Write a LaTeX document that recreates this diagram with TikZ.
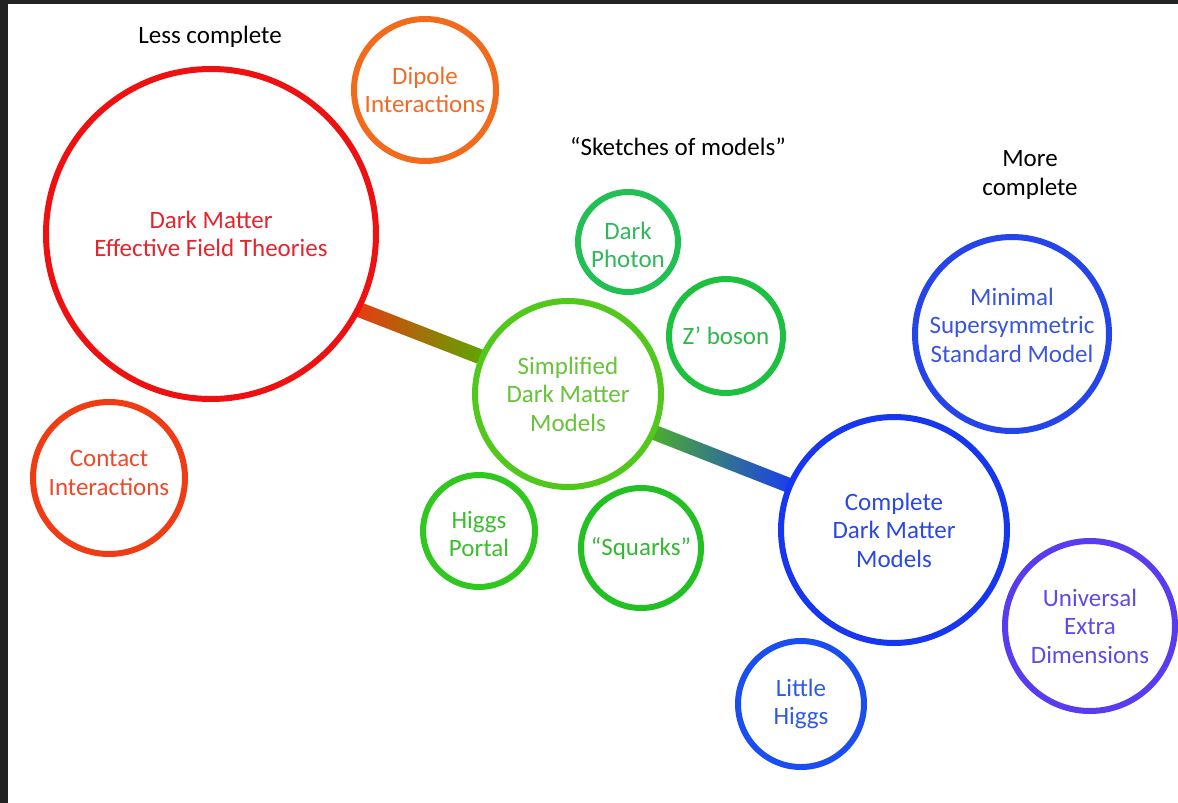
\documentclass[tikz,border=0pt]{standalone}
\usepackage{fontspec}
\setmainfont{Carlito}
\usetikzlibrary{calc}
\pgfdeclarelayer{background}
\pgfsetlayers{background,main}
\definecolor{frame}{HTML}{222222}
\definecolor{cEFT}{HTML}{EE1111}
\definecolor{tEFT}{HTML}{E3262E}
\definecolor{cDip}{HTML}{F26A1B}
\definecolor{tDip}{HTML}{F06A28}
\definecolor{cCon}{HTML}{F03C14}
\definecolor{tCon}{HTML}{EE4A2A}
\definecolor{cSim}{HTML}{52C81C}
\definecolor{tSim}{HTML}{66C33A}
\definecolor{cPho}{HTML}{22BF55}
\definecolor{tPho}{HTML}{30B85A}
\definecolor{cZb}{HTML}{1EC040}
\definecolor{tZb}{HTML}{2EB84A}
\definecolor{cHp}{HTML}{30C81E}
\definecolor{tHp}{HTML}{3CBE30}
\definecolor{cSq}{HTML}{22C022}
\definecolor{tSq}{HTML}{34B834}
\definecolor{cCom}{HTML}{1636F0}
\definecolor{tCom}{HTML}{2A48E6}
\definecolor{cMs}{HTML}{2545EA}
\definecolor{tMs}{HTML}{3A55E0}
\definecolor{cUed}{HTML}{5A3CF0}
\definecolor{tUed}{HTML}{5E4CE6}
\definecolor{cLh}{HTML}{1A4EF0}
\definecolor{tLh}{HTML}{2E5AE6}
\definecolor{barA}{HTML}{E83A10}
\definecolor{barB}{HTML}{5AA800}
\definecolor{barC}{HTML}{4CB028}
\definecolor{barD}{HTML}{1A3CF0}
\begin{document}
\begin{tikzpicture}[x=1pt,y=-1pt,
  txt/.style={align=center, font=\fontsize{25}{28.5}\selectfont},
  bubble/.style={circle, draw, line width=6pt, fill=white, inner sep=0pt, txt},
  plain/.style={txt, text=black}]
\begin{pgfonlayer}{background}
\fill[white] (0,0) rectangle (1178,803);
\end{pgfonlayer}
\fill[frame] (0,0) rectangle (1178,3.5);
\fill[frame] (0,0) rectangle (8,803);
\useasboundingbox (0,0) rectangle (1178,803);

\node[plain] (less) at (210,37) {Less complete};
\node[plain] (sketch) at (678,147) {“Sketches of models”};
\node[plain] (more) at (1030,175) {More\\complete};

\node[bubble, draw=cEFT, text=tEFT, minimum size=330] (eft) at (211,234) {Dark Matter\\Effective Field Theories};
\node[bubble, draw=cDip, text=tDip, minimum size=142] (dip) at (425,90) {Dipole\\Interactions};
\node[bubble, draw=cCon, minimum size=152,
  label={[txt, text=tCon, yshift=5pt]center:{Contact\\Interactions}}] (con) at (109,478) {};
\node[bubble, draw=cSim, text=tSim, minimum size=186] (sdm) at (568,394) {Simplified\\Dark Matter\\Models};
\node[bubble, draw=cPho, minimum size=100,
  label={[txt, text=tPho, yshift=-3pt]center:{Dark\\Photon}}] (pho) at (628,242) {};
\node[bubble, draw=cZb, text=tZb, minimum size=114] (zb) at (726,336) {Z’ boson};
\node[bubble, draw=cHp, minimum size=112,
  label={[txt, text=tHp, yshift=-3pt]center:{Higgs\\Portal}}] (hp) at (479,531) {};
\node[bubble, draw=cSq, text=tSq, minimum size=120] (sq) at (641,548) {“Squarks”};
\node[bubble, draw=cCom, text=tCom, minimum size=226] (com) at (894,530) {Complete\\Dark Matter\\Models};
\node[bubble, draw=cMs, minimum size=194,
  label={[txt, text=tMs, yshift=9pt]center:{Minimal\\Supersymmetric\\Standard Model}}] (ms) at (1012,334) {};
\node[bubble, draw=cUed, text=tUed, minimum size=170] (ued) at (1090,626) {Universal\\Extra\\Dimensions};
\node[bubble, draw=cLh, text=tLh, minimum size=126] (lh) at (801,704) {Little\\Higgs};

\begin{pgfonlayer}{background}
\path ($(eft.-27.5)!-4pt!(sdm.157.8)$) coordinate (a1)
      ($(sdm.157.8)!-4pt!(eft.-27.5)$) coordinate (a2);
\shade[left color=barA, right color=barB]
  ($(a1)!7.5pt!90:(a2)$) -- ($(a1)!7.5pt!-90:(a2)$) -- ($(a2)!7.5pt!90:(a1)$) -- ($(a2)!7.5pt!-90:(a1)$) -- cycle;
\path ($(sdm.-24.5)!-4pt!(com.157.2)$) coordinate (b1)
      ($(com.157.2)!-4pt!(sdm.-24.5)$) coordinate (b2);
\shade[left color=barC, right color=barD]
  ($(b1)!7.5pt!90:(b2)$) -- ($(b1)!7.5pt!-90:(b2)$) -- ($(b2)!7.5pt!90:(b1)$) -- ($(b2)!7.5pt!-90:(b1)$) -- cycle;
\end{pgfonlayer}
\end{tikzpicture}
\end{document}
